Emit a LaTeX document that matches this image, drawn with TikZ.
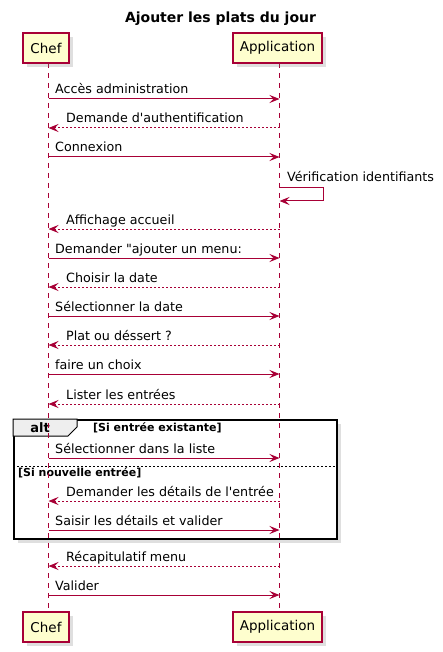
\documentclass[tikz,border=0pt]{standalone}
\usepackage{fontspec}
\newfontfamily\dvs{DejaVu Sans}
\usetikzlibrary{arrows.meta,shadows}
\definecolor{pred}{HTML}{A80036}
\definecolor{pyel}{HTML}{FEFECE}
\definecolor{pgray}{HTML}{EEEEEE}
\tikzset{
  part/.style={draw=pred, fill=pyel, line width=1.3pt, text=black,
    font=\dvs\fontsize{13.5}{16}\selectfont, inner sep=0pt, minimum height=30pt,
    drop shadow={shadow xshift=4pt, shadow yshift=-4pt, opacity=0.25}},
  life/.style={draw=pred, line width=1pt, dash pattern=on 5pt off 5pt},
  msg/.style={draw=pred, line width=1pt, -{Stealth[length=10pt,width=8pt,inset=4pt]}},
  ret/.style={msg, dash pattern=on 2pt off 2pt},
  lbl/.style={font=\dvs\fontsize{12.7}{15}\selectfont, inner sep=0pt, anchor=base west, text=black},
  grd/.style={font=\dvs\bfseries\fontsize{11}{13}\selectfont, inner sep=0pt, anchor=base west, text=black},
  altframe/.style={draw=black, line width=1.5pt, fill=white, inner sep=0pt, anchor=north west,
    drop shadow={shadow xshift=4pt, shadow yshift=-4pt, opacity=0.25}},
}
\begin{document}
\begin{tikzpicture}[x=1pt, y=-1pt]
\useasboundingbox (0,0) rectangle (443,652);
\node (title) [font=\dvs\bfseries\fontsize{14}{16}\selectfont, anchor=base, inner sep=0pt] at (220.5,23) {Ajouter les plats du jour};

% alt frame
\node (altf) [altframe, minimum width=323pt, minimum height=119pt] at (13,419) {};
\draw[fill=pgray, draw=black, line width=1pt] (13,419) -- (77,419) -- (77,427) -- (68,436) -- (13,436) -- cycle;
\node (altl) [font=\dvs\bfseries\fontsize{13}{15}\selectfont, inner sep=0pt, text=black] at (40,428) {alt};
\node (g1) [grd] at (93,431) {[Si entrée existante]};
\draw[black, line width=1pt, dash pattern=on 2pt off 2pt] (13,466) -- (336,466);
\node (g2) [grd] at (18,476) {[Si nouvelle entrée]};

% lifelines
\coordinate (cT) at (48.5,63);
\coordinate (cB) at (48.5,612);
\coordinate (aT) at (279.5,63);
\coordinate (aB) at (279.5,612);
\draw[life] (cT) -- (cB);
\draw[life] (aT) -- (aB);

% participants
\node (chefT) [part, minimum width=46pt] at (46,48) {Chef};
\node (appT) [part, minimum width=89pt] at (277.5,48) {Application};
\node (chefB) [part, minimum width=46pt] at (46,627) {Chef};
\node (appB) [part, minimum width=89pt] at (277.5,627) {Application};

% messages
\foreach \y/\d/\t [count=\i] in {
  99/R/{Accès administration},
  128/L/{Demande d'authentification},
  157/R/{Connexion},
  229/L/{Affichage accueil},
  258/R/{Demander "ajouter un menu:},
  287/L/{Choisir la date},
  316/R/{Sélectionner la date},
  345/L/{Plat ou déssert ?},
  374/R/{faire un choix},
  404/L/{Lister les entrées},
  458/R/{Sélectionner dans la liste},
  501/L/{Demander les détails de l'entrée},
  530/R/{Saisir les détails et valider},
  566/L/{Récapitulatif menu},
  595/R/{Valider}}{
  \coordinate (c\i) at (48.5,\y);
  \coordinate (a\i) at (279.5,\y);
  \if\d R
    \draw[msg] (c\i) -- (a\i);
    \node (m\i) [lbl] at (55,\y-5) {\t};
  \else
    \draw[ret] (a\i) -- (c\i);
    \node (m\i) [lbl] at (66,\y-5) {\t};
  \fi
}

% self message
\coordinate (s1) at (279.5,188);
\coordinate (s2) at (323,188);
\coordinate (s3) at (323,201);
\coordinate (s4) at (279.5,201);
\draw[msg] (s1) -- (s2) -- (s3) -- (s4);
\node (sl) [lbl] at (287,182) {Vérification identifiants};
\end{tikzpicture}
\end{document}
